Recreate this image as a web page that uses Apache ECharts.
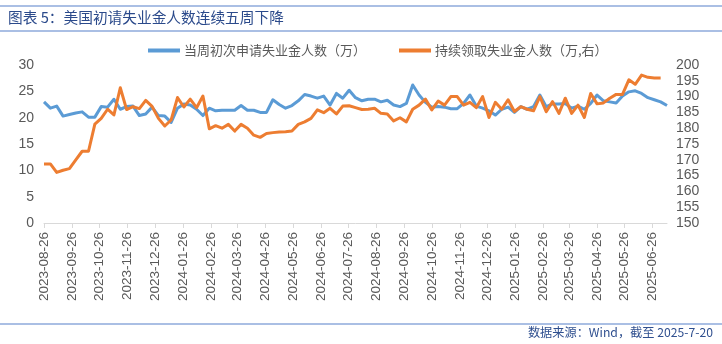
<!DOCTYPE html>
<html>
<head>
<meta charset="utf-8">
<script src="https://cdn.jsdelivr.net/npm/echarts@6/dist/echarts.min.js"></script>
<style>
html,body{margin:0;padding:0;background:#fff;}
#chart{width:722px;height:344px;}
</style>
</head>
<body>
<div id="chart"></div>
<script>
// ---- Data ----
const startDate = '2023-08-26';
const endDate = '2025-07-12';
const titleText = '图表 5：美国初请失业金人数连续五周下降';
const sourceText = '数据来源：Wind，截至 2025-7-20';
const seriesNames = ['当周初次申请失业金人数（万）', '持续领取失业金人数（万,右）'];

// weekly initial claims (万), weeks ending 2023-08-26 ... 2025-07-12
const initialClaims = [
  23.0, 21.8, 22.2, 20.3, 20.6, 20.9, 21.1, 20.1, 20.1, 22.1,
  22.0, 23.5, 21.6, 22.1, 22.2, 20.4, 20.7, 22.0, 20.4, 20.3,
  19.1, 21.8, 22.6, 22.4, 21.6, 20.4, 21.8, 21.3, 21.4, 21.4,
  21.4, 22.3, 21.4, 21.4, 21.0, 21.0, 23.4, 22.5, 21.8, 22.3,
  23.2, 24.4, 24.1, 23.7, 24.1, 22.4, 24.6, 23.7, 25.2, 23.8,
  23.2, 23.5, 23.5, 23.0, 23.3, 22.4, 22.1, 22.7, 26.2, 24.3,
  22.9, 22.0, 22.1, 22.0, 21.7, 21.7, 22.7, 24.3, 22.2, 21.8,
  21.3, 20.5, 21.6, 22.0, 21.0, 22.1, 21.6, 22.1, 24.3, 22.1,
  22.6, 22.6, 22.7, 21.8, 22.2, 21.6, 22.7, 24.3, 23.2, 23.0,
  22.8, 24.1, 24.9, 25.1, 24.6, 23.8, 23.4, 23.0, 22.3
];
// weekly continuing claims (万), weeks ending 2023-08-26 ... 2025-07-05
const continuingClaims = [
  168.7, 168.7, 166.0, 166.7, 167.2, 170.0, 172.7, 172.7, 181.3, 183.1,
  186.0, 184.2, 192.8, 185.9, 186.8, 186.2, 188.8, 186.9, 183.1, 180.7,
  182.6, 189.7, 186.7, 189.2, 186.5, 190.2, 179.8, 180.8, 180.0, 181.2,
  179.1, 181.2, 180.0, 177.8, 177.1, 178.3, 178.6, 178.8, 178.9, 179.1,
  181.2, 182.0, 183.1, 185.8, 184.9, 186.3, 184.5, 187.0, 187.1, 186.5,
  185.9, 186.0, 186.3, 184.7, 184.5, 182.3, 183.3, 182.0, 186.0, 187.3,
  189.2, 185.8, 188.6, 187.3, 190.0, 190.0, 187.3, 188.2, 186.5, 190.0,
  183.4, 188.2, 186.0, 189.0, 185.3, 186.8, 186.0, 185.5, 190.0, 185.2,
  188.4, 184.7, 189.5, 184.7, 187.3, 183.4, 191.0, 187.7, 188.0, 189.5,
  190.7, 190.7, 195.3, 193.9, 196.8, 196.1, 195.9, 195.9
];
const leftAxis = {min: 0, max: 30, interval: 5};
const rightAxis = {min: 150, max: 200, interval: 5};

// ---- build categories (daily) and weekly date list ----
function fmt(d){
  const m = String(d.getUTCMonth()+1).padStart(2,'0');
  const dd = String(d.getUTCDate()).padStart(2,'0');
  return d.getUTCFullYear()+'-'+m+'-'+dd;
}
const dayCats = [];
{
  let d = new Date(startDate+'T00:00:00Z');
  const e = new Date(endDate+'T00:00:00Z');
  while (d <= e) { dayCats.push(fmt(d)); d = new Date(d.getTime()+86400000); }
}
const weekDates = [];
{
  let d = new Date(startDate+'T00:00:00Z');
  for (let i = 0; i < initialClaims.length; i++) { weekDates.push(fmt(d)); d = new Date(d.getTime()+7*86400000); }
}
const blueData = initialClaims.map((v,i)=>[weekDates[i], v]);
const orangeData = continuingClaims.map((v,i)=>[weekDates[i], v]);

const isTick = (idx, val) => val.slice(8) === '26';
const gray = '#595959';
const numFont = 'Liberation Sans, Arial, sans-serif';
const cjkFont = '"Noto Sans CJK SC", sans-serif';

const chart = echarts.init(document.getElementById('chart'));
chart.setOption({
  animation: false,
  backgroundColor: '#fff',
  graphic: [
    {type:'line', shape:{x1:0,y1:6,x2:722,y2:6}, style:{stroke:'#8EAADB', lineWidth:1.5}},
    {type:'line', shape:{x1:0,y1:31,x2:722,y2:31}, style:{stroke:'#8EAADB', lineWidth:1.5}},
    {type:'line', shape:{x1:0,y1:324,x2:722,y2:324}, style:{stroke:'#8EAADB', lineWidth:1.5}},
    {type:'text', left:8, top:10, style:{text:titleText, fill:'#2B4A8B', font:'14.7px "Noto Sans CJK SC", sans-serif'}},
    {type:'text', right:9, top:326, style:{text:sourceText, fill:'#2F4F8F', font:'12.2px "Noto Sans CJK SC", sans-serif'}}
  ],
  legend: {
    left: 143, top: 39,
    itemWidth: 32, itemHeight: 4, itemGap: 33,
    icon: 'rect',
    textStyle: {color: gray, fontSize: 13, fontFamily: cjkFont, padding:[0,0,0,-1]},
    data: seriesNames
  },
  grid: {left: 44, right: 55, top: 65, bottom: 121, containLabel: false},
  xAxis: {
    type: 'category',
    data: dayCats,
    boundaryGap: false,
    axisLine: {lineStyle: {color: '#D9D9D9', width: 1}},
    axisTick: {show: true, interval: isTick, length: 5, lineStyle: {color: '#D9D9D9'}},
    axisLabel: {interval: isTick, rotate: 90, color: gray, fontSize: 13.5, fontFamily: numFont, margin: 9},
    splitLine: {show: false}
  },
  yAxis: [
    {
      type: 'value', min: leftAxis.min, max: leftAxis.max, interval: leftAxis.interval,
      axisLine: {show: false}, axisTick: {show: false}, splitLine: {show: false},
      axisLabel: {color: gray, fontSize: 14, fontFamily: numFont, margin: 10}
    },
    {
      type: 'value', min: rightAxis.min, max: rightAxis.max, interval: rightAxis.interval,
      axisLine: {show: false}, axisTick: {show: false}, splitLine: {show: false},
      axisLabel: {color: gray, fontSize: 14, fontFamily: numFont, margin: 9}
    }
  ],
  series: [
    {
      name: seriesNames[0], type: 'line', yAxisIndex: 0, data: blueData,
      showSymbol: false, symbol: 'none', color: '#5B9BD5',
      lineStyle: {width: 3, color: '#5B9BD5', join: 'round'}, z: 2
    },
    {
      name: seriesNames[1], type: 'line', yAxisIndex: 1, data: orangeData,
      showSymbol: false, symbol: 'none', color: '#ED7D31',
      lineStyle: {width: 3, color: '#ED7D31', join: 'round'}, z: 3
    }
  ]
});
</script>
</body>
</html>
